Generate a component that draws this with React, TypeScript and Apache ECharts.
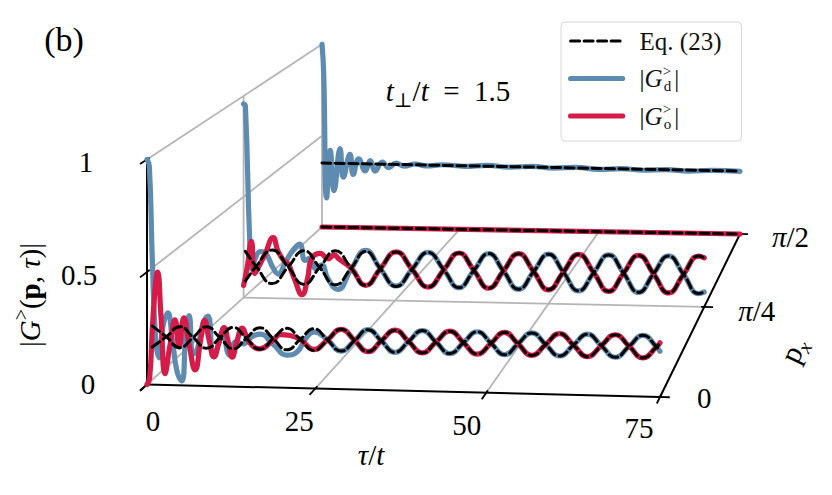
import React, { useEffect, useRef } from "react";
import * as echarts from "echarts";

// ---------- data ----------
const TAU_MAX = 75;
const PX_MAX = Math.PI / 2;

const TAU_TICKS = [0, 25, 50, 75];
const TAU_TICK_LABELS = ["0", "25", "50", "75"];
const PX_TICKS = [0, Math.PI / 4, Math.PI / 2];
const PX_TICK_LABELS = ["{n|0}", "{i|π}{n|/4}", "{i|π}{n|/2}"];
const Z_TICKS = [0, 0.5, 1];
const Z_TICK_LABELS = ["0", "0.5", "1"];
const TRACE_PX = [0, Math.PI / 4, Math.PI / 2];

// p_x = 0 : Eq. (23)
const FRONT_EQ_TAU = [0.8, 2.9, 4.9, 6.9, 8.9, 10.9, 12.85, 14.8, 16.8, 18.8, 20.8, 22.8, 24.8, 26.8, 28.8, 30.8, 32.75, 34.7, 36.7, 38.7, 40.7, 42.7, 44.7, 46.7, 48.7, 50.7, 52.65, 54.6, 56.6, 58.6, 60.6, 62.6, 64.6, 66.6, 68.6, 70.6, 72.55, 74.5, 75];
const FRONT_EQ_D = [0.26, 0.214, 0.167, 0.214, 0.262, 0.215, 0.167, 0.215, 0.263, 0.216, 0.168, 0.216, 0.264, 0.216, 0.168, 0.216, 0.265, 0.217, 0.168, 0.217, 0.266, 0.217, 0.168, 0.217, 0.266, 0.217, 0.168, 0.217, 0.266, 0.217, 0.168, 0.217, 0.266, 0.217, 0.168, 0.217, 0.266, 0.217, 0.198];
const FRONT_EQ_O = [0.167, 0.214, 0.26, 0.214, 0.167, 0.215, 0.262, 0.215, 0.168, 0.216, 0.263, 0.216, 0.168, 0.216, 0.264, 0.216, 0.168, 0.217, 0.265, 0.217, 0.168, 0.217, 0.266, 0.217, 0.168, 0.217, 0.266, 0.217, 0.168, 0.217, 0.266, 0.217, 0.168, 0.217, 0.266, 0.217, 0.168, 0.217, 0.235];
// p_x = 0 : numerics, early times
const FRONT_D_START = [[0, 1.0], [0.35, 0.97], [0.8, 0.55], [1.3, 0.2], [1.8, 0.12], [2.4, 0.26], [3.1, 0.32], [3.8, 0.2], [4.5, 0.06], [5.2, 0.02], [5.8, 0.22], [6.3, 0.31], [6.9, 0.14], [7.5, 0.16], [8.3, 0.27], [9.1, 0.31], [9.9, 0.13], [10.6, 0.18], [11.3, 0.24], [12.3, 0.14], [13.3, 0.2], [14.3, 0.19], [15.5, 0.22], [16.8, 0.235], [18.8, 0.19], [20.8, 0.145], [22.3, 0.16], [23.6, 0.22], [24.8, 0.25]];
const FRONT_O_START = [[0, 0.0], [0.4, 0.03], [0.9, 0.3], [1.6, 0.5], [2.1, 0.3], [2.7, 0.05], [3.4, 0.17], [4.2, 0.29], [4.8, 0.17], [5.5, 0.3], [6.3, 0.18], [7.2, 0.07], [8.0, 0.2], [8.6, 0.29], [9.3, 0.2], [10.0, 0.13], [10.8, 0.2], [11.5, 0.26], [12.1, 0.2], [12.7, 0.13], [13.4, 0.2], [14.2, 0.26], [15.2, 0.2], [16.8, 0.17], [18.8, 0.21], [19.8, 0.235], [21.3, 0.232], [22.8, 0.215], [24.8, 0.172]];

// p_x = pi/4 : Eq. (23)
const MID_EQ_TAU = [0.3, 2.1, 4.75, 7.4, 10.0, 12.6, 15.2, 17.8, 20.2, 22.6, 25.2, 27.8, 30.4, 33.0, 35.45, 37.9, 40.3, 42.7, 45.15, 47.6, 50.0, 52.4, 54.85, 57.3, 59.7, 62.1, 64.5, 66.9, 69.3, 71.7, 74.1, 75];
const MID_EQ_D = [0.23, 0.156, 0.072, 0.156, 0.238, 0.156, 0.072, 0.156, 0.24, 0.156, 0.07, 0.156, 0.24, 0.156, 0.07, 0.156, 0.24, 0.156, 0.068, 0.156, 0.242, 0.156, 0.066, 0.156, 0.244, 0.156, 0.064, 0.156, 0.244, 0.156, 0.064, 0.072];
const MID_EQ_O = [0.082, 0.156, 0.238, 0.156, 0.072, 0.156, 0.24, 0.156, 0.072, 0.156, 0.24, 0.156, 0.07, 0.156, 0.24, 0.156, 0.07, 0.156, 0.242, 0.156, 0.068, 0.156, 0.244, 0.156, 0.066, 0.156, 0.244, 0.156, 0.064, 0.156, 0.246, 0.238];
// p_x = pi/4 : numerics, early times
const MID_D_START = [[0, 0.96], [0.3, 0.95], [1.0, 0.3], [1.4, 0.14], [2.0, 0.2], [2.8, 0.23], [3.7, 0.22], [4.9, 0.15], [5.8, 0.12], [6.8, 0.17], [8.2, 0.24], [9.3, 0.27], [10.2, 0.19], [11.0, 0.2], [11.9, 0.15], [12.9, 0.17], [14.0, 0.1], [15.6, 0.05], [17.8, 0.15], [20.2, 0.245], [22.6, 0.156], [25.2, 0.072]];
const MID_O_START = [[0, 0.06], [0.6, 0.15], [1.3, 0.28], [1.85, 0.12], [2.6, 0.16], [3.6, 0.22], [4.9, 0.3], [5.7, 0.235], [6.6, 0.19], [7.4, 0.17], [8.4, 0.1], [9.7, 0.02], [10.6, 0.1], [11.3, 0.2], [12.7, 0.226], [14.0, 0.2], [15.0, 0.22], [15.8, 0.2], [17.8, 0.156], [20.2, 0.072], [22.6, 0.156], [25.2, 0.24]];

// p_x = pi/2
const BACK_EQ_D = [[0, 0.35], [75, 0.338]];
const BACK_EQ_O = [[0, 0.0], [75, 0.0]];
const BACK_D = [[0, 1.0], [0.3, 0.85], [0.85, 0.16], [1.5, 0.42], [2.2, 0.2], [3.3, 0.43], [3.9, 0.275], [5.1, 0.4], [5.7, 0.29], [6.7, 0.376], [7.9, 0.31], [8.8, 0.367], [9.7, 0.31], [11.0, 0.36], [12.2, 0.33], [13.5, 0.355], [15, 0.34], [17, 0.352], [19, 0.342], [22, 0.35], [26, 0.343], [30, 0.35], [34, 0.342], [38, 0.348], [42, 0.34], [46, 0.346], [50, 0.336], [54, 0.342], [58, 0.335], [62, 0.34], [66, 0.334], [70, 0.339], [75, 0.336]];
const BACK_O = [[0, 0.0], [75, 0.0]];

// ---------- layout / style ----------
const W = 832;
const H = 495;
const SERIF = "'Liberation Serif', 'DejaVu Serif', serif";
const BLUE = "#5d8cb0";
const RED = "#d51b47";
const GREY = "#b5b5b5";
const LINE_W = 5.2;
const DASH_W = 3;
const DASH = [9, 4.5];
// screen corners of the floor (tau,px) = (0,0), (max,0), (max,max), (0,max), and px per unit of |G| at (0,0)
const FLOOR_CORNERS = [[147, 384.5], [660, 397], [740, 234], [322, 227]];
const Z_UNIT_PX = 225;

function makeProjector() {
  const [[x0, y0], [x1, y1], [x2, y2], [x3, y3]] = FLOOR_CORNERS;
  const dx1 = x1 - x2, dx2 = x3 - x2, sx = x0 - x1 + x2 - x3;
  const dy1 = y1 - y2, dy2 = y3 - y2, sy = y0 - y1 + y2 - y3;
  const den = dx1 * dy2 - dx2 * dy1;
  const g = (sx * dy2 - dx2 * sy) / den;
  const h = (dx1 * sy - sx * dy1) / den;
  const a = x1 - x0 + g * x1, b = x3 - x0 + h * x3, c = x0;
  const d = y1 - y0 + g * y1, e = y3 - y0 + h * y3, f = y0;
  return (tau: number, px: number, z: number): number[] => {
    const u = tau / TAU_MAX;
    const v = px / PX_MAX;
    const w = g * u + h * v + 1;
    return [(a * u + b * v + c) / w, (d * u + e * v + f - Z_UNIT_PX * z) / w];
  };
}
const proj = makeProjector();

const pairsOf = (taus: number[], vals: number[]) => taus.map((t, i) => [t, vals[i]]);
const fromTau = (pts: number[][], t0: number) => pts.filter((p) => p[0] >= t0);

const FRONT_EQ_D_PTS = pairsOf(FRONT_EQ_TAU, FRONT_EQ_D);
const FRONT_EQ_O_PTS = pairsOf(FRONT_EQ_TAU, FRONT_EQ_O);
const MID_EQ_D_PTS = pairsOf(MID_EQ_TAU, MID_EQ_D);
const MID_EQ_O_PTS = pairsOf(MID_EQ_TAU, MID_EQ_O);

const TRACES = [
  { px: TRACE_PX[2], d: BACK_D, o: BACK_O, eqD: BACK_EQ_D, eqO: BACK_EQ_O },
  {
    px: TRACE_PX[1],
    d: [...MID_D_START, ...fromTau(MID_EQ_D_PTS, 27.8)],
    o: [...MID_O_START, ...fromTau(MID_EQ_O_PTS, 27.8)],
    eqD: MID_EQ_D_PTS,
    eqO: MID_EQ_O_PTS,
  },
  {
    px: TRACE_PX[0],
    d: [...FRONT_D_START, ...fromTau(FRONT_EQ_D_PTS, 26.8)],
    o: [...FRONT_O_START, ...fromTau(FRONT_EQ_O_PTS, 26.8)],
    eqD: FRONT_EQ_D_PTS,
    eqO: FRONT_EQ_O_PTS,
  },
];

const seg = (A: number[], B: number[], color: string, width: number) => ({
  type: "line",
  name: "frame",
  data: [A, B],
  symbol: "none",
  silent: true,
  clip: false,
  z: 1,
  itemStyle: { color },
  lineStyle: { color, width, cap: "butt" },
  emphasis: { disabled: true },
});

function frameSeries() {
  const out: any[] = [];
  // left wall (tau = 0) horizontal lines
  Z_TICKS.forEach((z) => out.push(seg(proj(0, 0, z), proj(0, PX_MAX, z), GREY, 1.8)));
  // left wall vertical lines
  PX_TICKS.slice(1).forEach((p) => out.push(seg(proj(0, p, 0), proj(0, p, 1), GREY, 1.8)));
  // floor lines along px
  TAU_TICKS.slice(1, -1).forEach((t) => out.push(seg(proj(t, 0, 0), proj(t, PX_MAX, 0), GREY, 1.8)));
  // floor lines along tau
  PX_TICKS.slice(1).forEach((p) => out.push(seg(proj(0, p, 0), proj(TAU_MAX, p, 0), GREY, 1.8)));
  // black axes
  out.push(seg(proj(0, 0, 0), proj(0, 0, 1), "#000", 2));
  out.push(seg(proj(0, 0, 0), proj(TAU_MAX, 0, 0), "#000", 2));
  out.push(seg(proj(TAU_MAX, 0, 0), proj(TAU_MAX, PX_MAX, 0), "#000", 2));
  // ticks
  Z_TICKS.forEach((z) => out.push(seg(proj(0, 0.012 * PX_MAX, z), proj(0, -0.032 * PX_MAX, z), "#000", 1.8)));
  TAU_TICKS.forEach((t) => out.push(seg(proj(t, 0.012 * PX_MAX, 0), proj(t, -0.032 * PX_MAX, 0), "#000", 1.8)));
  PX_TICKS.forEach((p) => out.push(seg(proj(TAU_MAX - 0.5, p, 0), proj(TAU_MAX + 1.4, p, 0), "#000", 1.8)));
  return out;
}

const curve = (name: string, pts: number[][], px: number, color: string, width: number, dash: any) => ({
  type: "line",
  name,
  data: pts.map(([t, z]) => proj(t, px, z)),
  symbol: "none",
  smooth: 0.5,
  silent: true,
  clip: false,
  z: 2,
  itemStyle: { color },
  lineStyle: { color, width, type: dash, cap: "round", join: "round" },
  emphasis: { disabled: true },
});

function traceSeries() {
  const out: any[] = [];
  TRACES.forEach((tr) => {
    out.push(curve("Gd", tr.d, tr.px, BLUE, LINE_W, "solid"));
    out.push(curve("Go", tr.o, tr.px, RED, LINE_W, "solid"));
    out.push(curve("Eq. (23)", tr.eqD, tr.px, "#000", DASH_W, DASH));
    out.push(curve("Eq. (23)", tr.eqO, tr.px, "#000", DASH_W, DASH));
  });
  return out;
}

const TEXT_RICH = (size: number) => ({
  n: { fontFamily: SERIF, fontSize: size, fill: "#000", color: "#000" },
  i: { fontFamily: SERIF, fontSize: size, fontStyle: "italic", fill: "#000", color: "#000" },
  b: { fontFamily: SERIF, fontSize: size, fontWeight: "bold", fill: "#000", color: "#000" },
  sup: { fontFamily: SERIF, fontSize: Math.round(size * 0.68), verticalAlign: "top", lineHeight: Math.round(size * 0.68), fill: "#000", color: "#000" },
  sub: { fontFamily: SERIF, fontSize: Math.round(size * 0.68), fontStyle: "italic", verticalAlign: "bottom", lineHeight: Math.round(size * 0.68), fill: "#000", color: "#000" },
});

const Z_LABEL_SHIFT = [[-59, -1], [-68, 3], [-61, 2.5]];
const TAU_LABEL_SHIFT = [[6, 36.5], [-16, 32], [-19.5, 32], [-21, 31]];
const PX_LABEL_SHIFT = [[37, 1], [34, 4], [32, 2.5]];

function textGraphics() {
  const g: any[] = [];
  const txt = (x: number, y: number, text: string, size: number, align = "center", rotation = 0, lineHeight?: number) => ({
    type: "text",
    x,
    y,
    rotation,
    silent: true,
    style: {
      text,
      fontFamily: SERIF,
      fontSize: size,
      fill: "#000",
      align,
      verticalAlign: "middle",
      lineHeight: lineHeight || Math.round(size * 1.2),
      rich: TEXT_RICH(size),
    },
  });
  Z_TICKS.forEach((z, i) => {
    const [x, y] = proj(0, 0, z);
    g.push(txt(x + Z_LABEL_SHIFT[i][0], y + Z_LABEL_SHIFT[i][1], Z_TICK_LABELS[i], 29));
  });
  TAU_TICKS.forEach((t, i) => {
    const [x, y] = proj(t, 0, 0);
    g.push(txt(x + TAU_LABEL_SHIFT[i][0], y + TAU_LABEL_SHIFT[i][1], TAU_TICK_LABELS[i], 29));
  });
  PX_TICKS.forEach((p, i) => {
    const [x, y] = proj(TAU_MAX, p, 0);
    g.push(txt(x + PX_LABEL_SHIFT[i][0], y + PX_LABEL_SHIFT[i][1], PX_TICK_LABELS[i], 29, "left"));
  });
  g.push(txt(64, 39, "(b)", 34));
  g.push(txt(448, 91, "{i|t}{sub|⊥}{n|/}{i|t}{n|  =  1.5}", 29, "center", 0, 38));
  g.push(txt(371, 455, "{i|τ}{n|/}{i|t}", 29));
  g.push(txt(30, 295, "{n||}{i|G}{sup|>}{n|(}{b|p}{n|, }{i|τ}{n|)|}", 29, "center", Math.PI / 2, 38));
  g.push(txt(793, 350, "{n|p}{sub|x}", 30, "center", Math.atan2(163, 80), 38));
  return g;
}

const LEGEND_TEXT: Record<string, string> = {
  "Eq. (23)": "{n|Eq. (23)}",
  Gd: "{n||}{i|G}{sup|>}{sb|d}{n||}",
  Go: "{n||}{i|G}{sup|>}{sb|o}{n||}",
};

function buildOption() {
  return {
    animation: false,
    backgroundColor: "#ffffff",
    grid: { left: 0, right: 0, top: 0, bottom: 0, containLabel: false },
    xAxis: { type: "value", min: 0, max: W, show: false },
    yAxis: { type: "value", min: 0, max: H, inverse: true, show: false },
    legend: {
      data: ["Eq. (23)", "Gd", "Go"],
      orient: "vertical",
      left: 561,
      top: 22,
      padding: [4, 20, 10, 7],
      itemWidth: 52,
      itemHeight: 14,
      itemGap: 7.5,
      backgroundColor: "rgba(255,255,255,0.85)",
      borderColor: "#d8d8d8",
      borderWidth: 1,
      borderRadius: 4,
      selectedMode: false,
      itemStyle: { opacity: 0 },
      lineStyle: { width: "inherit", opacity: 1 },
      formatter: (name: string) => LEGEND_TEXT[name] || name,
      textStyle: {
        fontFamily: SERIF,
        fontSize: 25,
        color: "#111",
        lineHeight: 30,
        padding: [0, 0, 0, 12],
        rich: {
          n: { fontFamily: SERIF, fontSize: 25, color: "#111", lineHeight: 30 },
          i: { fontFamily: SERIF, fontSize: 25, fontStyle: "italic", color: "#111", lineHeight: 30 },
          sup: { fontFamily: SERIF, fontSize: 15, color: "#111", verticalAlign: "top", lineHeight: 14, width: 1 },
          sb: { fontFamily: SERIF, fontSize: 15, color: "#111", verticalAlign: "bottom", lineHeight: 14, padding: [0, 3, 0, 0] },
        },
      },
    },
    graphic: textGraphics(),
    series: [...frameSeries(), ...traceSeries()],
  };
}

export default function App() {
  const ref = useRef<HTMLDivElement>(null);
  useEffect(() => {
    if (!ref.current) return;
    const chart = echarts.init(ref.current, null, { renderer: "svg" });
    chart.setOption(buildOption() as any);
    return () => chart.dispose();
  }, []);
  return (
    <div
      ref={ref}
      style={{ position: "fixed", left: 0, top: 0, width: W, height: H, background: "#fff" }}
    />
  );
}
